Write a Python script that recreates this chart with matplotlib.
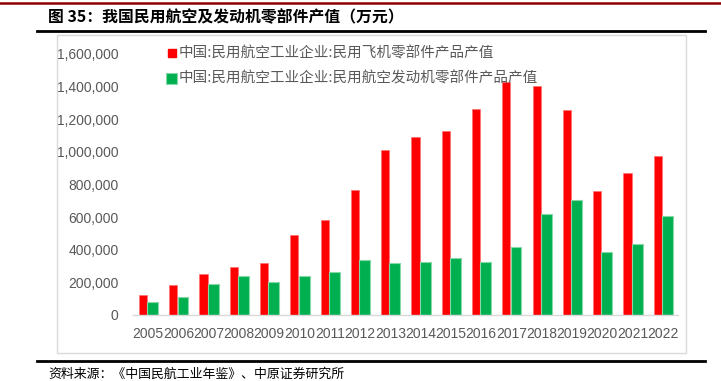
import numpy as np
import matplotlib
matplotlib.use("Agg")
import matplotlib.pyplot as plt
from matplotlib.lines import Line2D
from matplotlib.patches import Rectangle

plt.rcParams['font.family'] = ['Liberation Sans', 'Noto Sans CJK SC', 'DejaVu Sans']

# data (万元)
years = ['2005', '2006', '2007', '2008', '2009', '2010', '2011', '2012', '2013',
         '2014', '2015', '2016', '2017', '2018', '2019', '2020', '2021', '2022']
aircraft_parts = [121000, 184000, 251000, 294000, 319000, 490000, 580000, 764000, 1011000,
                  1089000, 1128000, 1263000, 1430000, 1402000, 1255000, 760000, 869000, 975000]
engine_parts = [82000, 112000, 190000, 237000, 200000, 241000, 262000, 337000, 319000,
                325000, 351000, 323000, 417000, 619000, 705000, 386000, 435000, 607000]
yticks = [0, 200000, 400000, 600000, 800000, 1000000, 1200000, 1400000, 1600000]

label_red = '中国:民用航空工业企业:民用飞机零部件产品产值'
label_green = '中国:民用航空工业企业:民用航空发动机零部件产品产值'
title = '图 35：我国民用航空及发动机零部件产值（万元）'
source = '资料来源：《中国民航工业年鉴》、中原证券研究所'

W, H = 721, 381
gray = '#595959'

def fx(x):
    return x / W

def fy(y):
    return 1 - y / H

fig = plt.figure(figsize=(W / 100, H / 100), dpi=100)
ax = fig.add_axes([fx(133), fy(315), fx(678) - fx(133), fy(54) - fy(315)])

x = np.arange(len(years))
ax.bar(x - 0.17, aircraft_parts, width=0.27, color='#FF0000', edgecolor='#ff7070', linewidth=0.5, zorder=2)
ax.bar(x + 0.15, engine_parts, width=0.36, color='#00B050', edgecolor='#86d9a6', linewidth=0.8, zorder=3)

ax.set_xlim(-0.5, len(years) - 0.5)
ax.set_ylim(0, 1600000)
ax.set_xticks(x)
ax.set_xticklabels(years, fontsize=10, color=gray)
ax.set_yticks(yticks)
ax.set_yticklabels(['{:,}'.format(v) for v in yticks], fontsize=10, color=gray)
ax.tick_params(axis='both', length=0)
ax.tick_params(axis='y', pad=10.5)
ax.tick_params(axis='x', pad=9)
for s in ['top', 'right', 'left']:
    ax.spines[s].set_visible(False)
ax.spines['bottom'].set_color('#d9d9d9')
ax.spines['bottom'].set_linewidth(1)
ax.spines['bottom'].set_zorder(4)

# legend, drawn by hand
fig.add_artist(Rectangle((fx(168), fy(57)), fx(176) - fx(168), fy(49) - fy(57),
                         transform=fig.transFigure, color='#FF0000'))
fig.add_artist(Rectangle((fx(166), fy(84)), fx(177) - fx(166), fy(73) - fy(84),
                         transform=fig.transFigure, facecolor='#00B050', edgecolor='#86d9a6', lw=0.8))
fig.text(fx(179), fy(53), label_red, fontsize=10.5, color=gray, va='center', ha='left',
         family=['Noto Sans CJK SC', 'DejaVu Sans'])
fig.text(fx(179), fy(78), label_green, fontsize=10.5, color=gray, va='center', ha='left',
         family=['Noto Sans CJK SC', 'DejaVu Sans'])

# frame and rules around the chart
fig.add_artist(Line2D([0, 1], [fy(2.7), fy(2.7)], transform=fig.transFigure, color='#8B0000', lw=1.8))
fig.add_artist(Line2D([fx(37), fx(705)], [fy(30.7), fy(30.7)], transform=fig.transFigure, color='black', lw=2))
fig.add_artist(Rectangle((fx(57), fy(353)), fx(686) - fx(57), fy(35) - fy(353),
                         transform=fig.transFigure, fill=False, edgecolor='#d9d9d9', lw=1))
fig.add_artist(Line2D([fx(37), fx(705)], [fy(361), fy(361)], transform=fig.transFigure, color='black', lw=2))

fig.text(fx(48), fy(17), title, fontsize=11.4, fontweight='bold', color='black', va='center', ha='left',
         family=['Noto Sans CJK SC', 'DejaVu Sans'])
fig.text(fx(48), fy(374), source, fontsize=9.3, color='black', va='center', ha='left',
         family=['Noto Sans CJK SC', 'DejaVu Sans'])

fig.savefig('out.png', dpi=100)
